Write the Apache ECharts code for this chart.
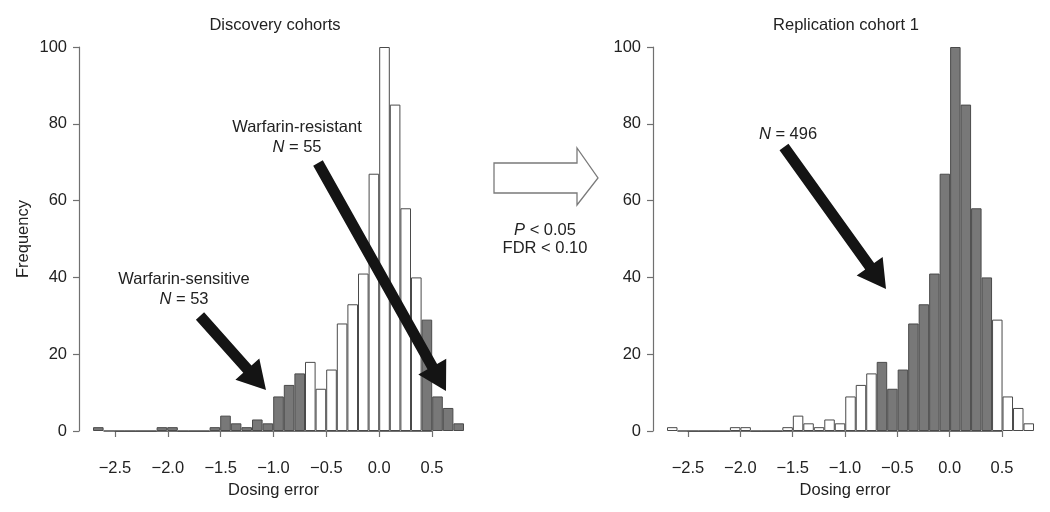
<!DOCTYPE html>
<html>
<head>
<meta charset="utf-8">
<script src="https://cdn.jsdelivr.net/npm/echarts@6/dist/echarts.min.js"></script>
<style>
html, body { margin: 0; padding: 0; background: #fff; }
#chart { width: 1050px; height: 512px; }
</style>
</head>
<body>
<div id="chart"></div>
<script>
// bin left edges, width 0.1
var binStarts = ['-2.7', '-2.6', '-2.5', '-2.4', '-2.3', '-2.2', '-2.1', '-2.0', '-1.9', '-1.8',
    '-1.7', '-1.6', '-1.5', '-1.4', '-1.3', '-1.2', '-1.1', '-1.0', '-0.9', '-0.8',
    '-0.7', '-0.6', '-0.5', '-0.4', '-0.3', '-0.2', '-0.1', '0.0', '0.1', '0.2',
    '0.3', '0.4', '0.5', '0.6', '0.7'];

// frequencies
var discoveryCounts = [1, 0, 0, 0, 0, 0, 1, 1, 0, 0,
    0, 1, 4, 2, 1, 3, 2, 9, 12, 15,
    18, 11, 16, 28, 33, 41, 67, 100, 85, 58,
    40, 29, 9, 6, 2];
var replicationCounts = [1, 0, 0, 0, 0, 0, 1, 1, 0, 0,
    0, 1, 4, 2, 1, 3, 2, 9, 12, 15,
    18, 11, 16, 28, 33, 41, 67, 100, 85, 58,
    40, 29, 9, 6, 2];

// 1 = selected group (shaded), 0 = rest
var discoverySelected = [1, 1, 1, 1, 1, 1, 1, 1, 1, 1,
    1, 1, 1, 1, 1, 1, 1, 1, 1, 1,
    0, 0, 0, 0, 0, 0, 0, 0, 0, 0,
    0, 1, 1, 1, 1];
var replicationSelected = [0, 0, 0, 0, 0, 0, 0, 0, 0, 0,
    0, 0, 0, 0, 0, 0, 0, 0, 0, 0,
    1, 1, 1, 1, 1, 1, 1, 1, 1, 1,
    1, 0, 0, 0, 0];

var xTicks = [-2.5, 0.5];   // axis range shown
var yTicks = [0, 100];

var font = '"Liberation Sans", Arial, sans-serif';
var fs = 16.5;
var axisGray = '#707070';
var textColor = '#222';

function barData(counts, sel) {
    return counts.map(function (v, i) {
        return {
            value: v,
            itemStyle: {
                color: sel[i] ? '#787878' : '#ffffff',
                borderColor: '#4a4a4a',
                borderWidth: 1
            }
        };
    });
}

function valueXAxis(gridIndex) {
    return {
        type: 'value', gridIndex: gridIndex,
        min: xTicks[0], max: xTicks[1], interval: 0.5,
        offset: 15,
        axisLine: { show: true, lineStyle: { color: axisGray, width: 1.2 } },
        axisTick: { show: true, length: 6, lineStyle: { color: axisGray, width: 1.2 } },
        splitLine: { show: false },
        axisLabel: {
            margin: 14, fontSize: fs, fontFamily: font, color: textColor,
            formatter: function (v) { return v.toFixed(1).replace('-', '\u2212'); }
        },
        name: 'Dosing error', nameLocation: 'middle', nameGap: 35,
        nameTextStyle: { fontSize: fs, fontFamily: font, color: textColor }
    };
}

function freqYAxis(gridIndex, withName) {
    return {
        type: 'value', gridIndex: gridIndex,
        min: yTicks[0], max: yTicks[1], interval: 20,
        offset: 14,
        axisLine: { show: true, lineStyle: { color: axisGray, width: 1.2 } },
        axisTick: { show: true, length: 6, lineStyle: { color: axisGray, width: 1.2 } },
        splitLine: { show: false },
        axisLabel: { margin: 12, fontSize: fs, fontFamily: font, color: textColor },
        name: withName ? 'Frequency' : '', nameLocation: 'middle', nameGap: 47,
        nameTextStyle: { fontSize: fs, fontFamily: font, color: textColor }
    };
}

// thick filled arrow from tail to tip
function arrow(x1, y1, x2, y2) {
    var dx = x2 - x1, dy = y2 - y1, len = Math.sqrt(dx * dx + dy * dy);
    var ux = dx / len, uy = dy / len, nx = -uy, ny = ux;
    var w = 5.5, hw = 16, hl = 28;
    var bx = x2 - ux * hl, by = y2 - uy * hl;
    return {
        type: 'polygon', z: 100,
        shape: { points: [
            [x1 + nx * w, y1 + ny * w], [bx + nx * w, by + ny * w], [bx + nx * hw, by + ny * hw],
            [x2, y2],
            [bx - nx * hw, by - ny * hw], [bx - nx * w, by - ny * w], [x1 - nx * w, y1 - ny * w]
        ] },
        style: { fill: '#141414' }
    };
}

function label(x, y, text) {
    return {
        type: 'text', x: x, y: y, z: 100,
        style: {
            text: text, fontSize: fs, fontFamily: font, fill: textColor,
            align: 'center', verticalAlign: 'middle',
            rich: { i: { fontStyle: 'italic', fontSize: fs, fontFamily: font, fill: textColor } }
        }
    };
}

var chart = echarts.init(document.getElementById('chart'));
var opt = {
    backgroundColor: '#fff',
    animation: false,
    grid: [
        { left: 93, top: 47, width: 371, height: 384 },
        { left: 115, top: 47, width: 317, height: 384 },
        { left: 667, top: 47, width: 367, height: 384 },
        { left: 688, top: 47, width: 314, height: 384 }
    ],
    xAxis: [
        { type: 'category', gridIndex: 0, data: binStarts, show: false },
        valueXAxis(1),
        { type: 'category', gridIndex: 2, data: binStarts, show: false },
        valueXAxis(3)
    ],
    yAxis: [
        freqYAxis(0, true),
        { type: 'value', gridIndex: 1, min: 0, max: 100, show: false },
        freqYAxis(2, false),
        { type: 'value', gridIndex: 3, min: 0, max: 100, show: false }
    ],
    series: [
        {
            name: 'Discovery cohorts', type: 'bar', xAxisIndex: 0, yAxisIndex: 0,
            barWidth: '100%', barCategoryGap: 0,
            data: barData(discoveryCounts, discoverySelected)
        },
        {
            name: 'Replication cohort 1', type: 'bar', xAxisIndex: 2, yAxisIndex: 2,
            barWidth: '100%', barCategoryGap: 0,
            data: barData(replicationCounts, replicationSelected)
        }
    ],
    graphic: [
        label(275, 25, 'Discovery cohorts'),
        label(846, 25, 'Replication cohort 1'),
        label(184, 279, 'Warfarin-sensitive'),
        label(184, 299, '{i|N} = 53'),
        label(297, 127, 'Warfarin-resistant'),
        label(297, 147, '{i|N} = 55'),
        label(788, 134, '{i|N} = 496'),
        arrow(200, 316, 266, 390),
        arrow(318, 163, 446, 391),
        arrow(784, 147, 886, 289),
        {
            type: 'polygon', z: 100,
            shape: { points: [[494, 163], [577, 163], [577, 148], [598, 178], [577, 205], [577, 193], [494, 193]] },
            style: { fill: '#fff', stroke: '#7a7a7a', lineWidth: 1.3 }
        },
        label(545, 230, '{i|P} < 0.05'),
        label(545, 248, 'FDR < 0.10')
    ]
};
chart.setOption(opt);
window.addEventListener('resize', function () {
    chart.resize();
});
</script>
</body>
</html>
